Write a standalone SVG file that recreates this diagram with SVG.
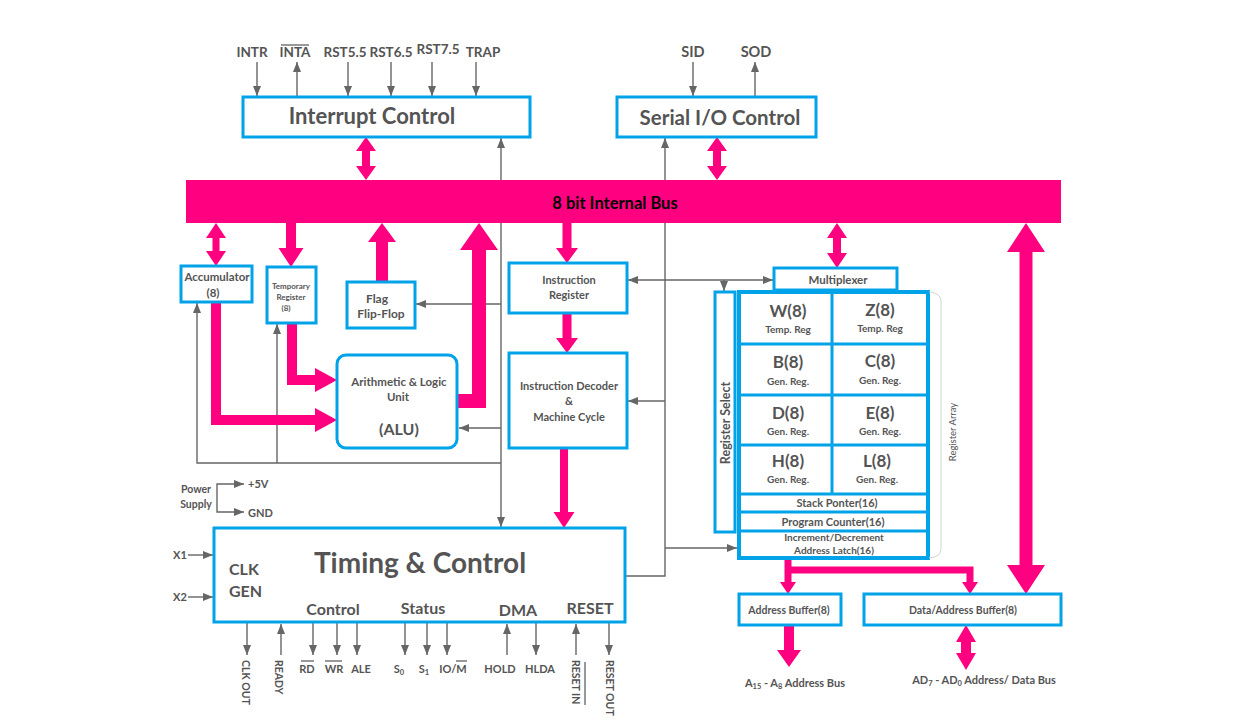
<svg xmlns="http://www.w3.org/2000/svg" width="1240" height="726" viewBox="0 0 1240 726">
<style>
.t{font-family:Lato,"Open Sans","DejaVu Sans",sans-serif;font-weight:700;fill:#545454;text-anchor:middle}
.st{text-anchor:start}
.box{fill:#fff;stroke:#00A2E8;stroke-width:3}
.gl{fill:none;stroke:#666;stroke-width:1.4}
.ga{fill:none;stroke:#666;stroke-width:1.4;marker-end:url(#ah)}
.gb{fill:none;stroke:#666;stroke-width:1.4;marker-start:url(#ah);marker-end:url(#ah)}
.pk{fill:#FF0080}
.ol{stroke:#545454;stroke-width:1.2}
</style>
<defs>
<marker id="ah" viewBox="0 0 10 8" refX="10" refY="4" markerWidth="10" markerHeight="8" markerUnits="userSpaceOnUse" orient="auto-start-reverse"><path d="M0,0 L10,4 L0,8 z" fill="#666"/></marker>
</defs>
<rect width="1240" height="726" fill="#fff"/>

<g id="connectors">
  <path class="ga" d="M257,62 V96"/>
  <path class="ga" d="M297,96 V62"/>
  <path class="ga" d="M348,62 V96"/>
  <path class="ga" d="M391,62 V96"/>
  <path class="ga" d="M432,62 V96"/>
  <path class="ga" d="M476,62 V96"/>
  <path class="ga" d="M693,62 V96"/>
  <path class="ga" d="M755,96 V62"/>
  <path class="gb" d="M501,138 V527"/>
  <path class="ga" d="M501,304 H416"/>
  <path class="ga" d="M501,428 H459"/>
  <path class="ga" d="M501,463 H197 V303"/>
  <path class="ga" d="M277,463 V324"/>
  <path class="gl" d="M665,138 V576 H626" style="marker-start:url(#ah)"/>
  <path class="gb" d="M628,280 H773"/>
  <path class="ga" d="M724,280 V291"/>
  <path class="ga" d="M665,401 H628"/>
  <path class="ga" d="M665,548 H737"/>
  <path class="gb" d="M244,484 H217 V512 H244"/>
  <path class="ga" d="M188,555 H213"/>
  <path class="ga" d="M188,597 H213"/>
  <path class="ga" d="M247,623 V655"/>
  <path class="ga" d="M281,655 V624"/>
  <path class="ga" d="M313,623 V655"/>
  <path class="ga" d="M337,623 V655"/>
  <path class="ga" d="M357,623 V655"/>
  <path class="ga" d="M405,623 V655"/>
  <path class="ga" d="M427,623 V655"/>
  <path class="ga" d="M447,623 V655"/>
  <path class="ga" d="M507,655 V624"/>
  <path class="ga" d="M536,623 V655"/>
  <path class="ga" d="M576,655 V624"/>
  <path class="ga" d="M609,623 V655"/>
  <path class="pk" d="M366,137 L376,151 L370,151 L370,166 L376,166 L366,180 L356,166 L362,166 L362,151 L356,151 Z"/>
  <path class="pk" d="M717,137 L727,151 L721,151 L721,166 L727,166 L717,180 L707,166 L713,166 L713,151 L707,151 Z"/>
  <path class="pk" d="M216,223 L226,238 L219.5,238 L219.5,251 L226,251 L216,266 L206,251 L212.5,251 L212.5,238 L206,238 Z"/>
  <path class="pk" d="M837,223 L847,238 L841,238 L841,253 L847,253 L837,268 L827,253 L833,253 L833,238 L827,238 Z"/>
  <path class="pk" d="M1026,223 L1045,252 L1032.5,252 L1032.5,565 L1045,565 L1026,594 L1007,565 L1019.5,565 L1019.5,252 L1007,252 Z"/>
  <path class="pk" d="M966,625 L976,642 L971,642 L971,653 L976,653 L966,670 L956,653 L961,653 L961,642 L956,642 Z"/>
  <path class="pk" d="M286,223 L296,223 L296,248 L303.5,248 L291,267 L278.5,248 L286,248 Z"/>
  <path class="pk" d="M562.5,223 L571.5,223 L571.5,248 L578,248 L567,263 L556,248 L562.5,248 Z"/>
  <path class="pk" d="M562.5,313 L571.5,313 L571.5,338 L578,338 L567,353 L556,338 L562.5,338 Z"/>
  <path class="pk" d="M560,448 L568,448 L568,512 L574.5,512 L564,528 L553.5,512 L560,512 Z"/>
  <path class="pk" d="M784,625 L794,625 L794,650 L801,650 L789,667 L777,650 L784,650 Z"/>
  <path class="pk" d="M376,282 L388,282 L388,242 L396,242 L382,223 L368,242 L376,242 Z"/>
  <path class="pk" d="M458,394 L472,394 L472,250 L460,250 L479,223 L498,250 L486,250 L486,408 L458,408 Z"/>
  <path class="pk" d="M211,302 L221,302 L221,415 L315,415 L315,408 L337,420 L315,432 L315,425 L211,425 Z"/>
  <path class="pk" d="M287,323 L297,323 L297,375 L315,375 L315,368 L337,380 L315,392 L315,385 L287,385 Z"/>
  <path d="M788,558 V584 M788,570 H970 V584" fill="none" stroke="#FF0080" stroke-width="7"/>
  <path class="pk" d="M780,582 L796,582 L788,594 Z"/>
  <path class="pk" d="M962,582 L978,582 L970,594 Z"/>
</g>

<g id="pin-labels">
  <text class="t" x="252" y="57" font-size="13.5">INTR</text>
  <text class="t" x="295" y="57" font-size="13.5">INTA</text>
  <line class="ol" x1="281" y1="45" x2="309" y2="45"/>
  <text class="t" x="345" y="57" font-size="13.5">RST5.5</text>
  <text class="t" x="391" y="57" font-size="13.5">RST6.5</text>
  <text class="t" x="438" y="54" font-size="13.5">RST7.5</text>
  <text class="t" x="483" y="57" font-size="13.5">TRAP</text>
  <text class="t" x="693" y="57" font-size="14.5">SID</text>
  <text class="t" x="756" y="57" font-size="14.5">SOD</text>
  <text class="t st" x="173" y="559" font-size="11">X1</text>
  <text class="t st" x="173" y="601" font-size="11">X2</text>
  <text class="t" x="196" y="493" font-size="10.5">Power</text>
  <text class="t" x="196" y="508" font-size="10.5">Supply</text>
  <text class="t st" x="248" y="488" font-size="11">+5V</text>
  <text class="t st" x="248" y="517" font-size="11">GND</text>
  <text class="t" transform="translate(242,660) rotate(90)" style="text-anchor:start" font-size="10.5">CLK OUT</text>
  <text class="t" transform="translate(275,660) rotate(90)" style="text-anchor:start" font-size="10.5">READY</text>
  <text class="t" x="307" y="673" font-size="11">RD</text>
  <line class="ol" x1="301" y1="661" x2="314" y2="661"/>
  <text class="t" x="334" y="673" font-size="11">WR</text>
  <line class="ol" x1="325" y1="661" x2="342" y2="661"/>
  <text class="t" x="361" y="673" font-size="11">ALE</text>
  <text class="t" x="399" y="673" font-size="11">S<tspan font-size="7.5" dy="2">0</tspan></text>
  <text class="t" x="424" y="673" font-size="11">S<tspan font-size="7.5" dy="2">1</tspan></text>
  <text class="t" x="453" y="673" font-size="11">IO/M</text>
  <line class="ol" x1="456" y1="661" x2="467" y2="661"/>
  <text class="t" x="500" y="673" font-size="11">HOLD</text>
  <text class="t" x="540" y="673" font-size="11">HLDA</text>
  <text class="t" transform="translate(572,660) rotate(90)" style="text-anchor:start" font-size="10.5">RESET IN</text>
  <line class="ol" x1="585" y1="662" x2="585" y2="705"/>
  <text class="t" transform="translate(606,660) rotate(90)" style="text-anchor:start" font-size="10.5">RESET OUT</text>
  <text class="t" x="795" y="687" font-size="11">A<tspan font-size="7.5" dy="2">15</tspan><tspan dy="-2"> - A</tspan><tspan font-size="7.5" dy="2">8</tspan><tspan dy="-2"> Address Bus</tspan></text>
  <text class="t" x="984" y="684" font-size="11">AD<tspan font-size="7.5" dy="2">7</tspan><tspan dy="-2"> - AD</tspan><tspan font-size="7.5" dy="2">0</tspan><tspan dy="-2"> Address/ Data Bus</tspan></text>
</g>

<g id="bus">
  <rect x="186" y="180" width="875" height="43" fill="#FF0080"/>
  <text class="t" x="615" y="209" font-size="16.5" style="fill:#000">8 bit Internal Bus</text>
</g>

<g id="interrupt-control">
  <rect class="box" x="243" y="97" width="287" height="40"/>
  <text class="t" x="372" y="124" font-size="22">Interrupt Control</text>
</g>

<g id="serial-io-control">
  <rect class="box" x="617" y="97" width="199" height="40"/>
  <text class="t" x="720" y="125" font-size="20.5">Serial I/O Control</text>
</g>

<g id="accumulator">
  <rect class="box" x="181" y="266" width="71" height="36"/>
  <text class="t" x="217" y="281" font-size="11.5">Accumulator</text>
  <text class="t" x="213" y="297" font-size="11.5">(8)</text>
</g>

<g id="temporary-register">
  <rect class="box" x="267" y="267" width="49" height="56"/>
  <text class="t" x="291" y="289" font-size="8">Temporary</text>
  <text class="t" x="291" y="300" font-size="8">Register</text>
  <text class="t" x="286" y="311" font-size="8">(8)</text>
</g>

<g id="flag-flip-flop">
  <rect class="box" x="347" y="282" width="68" height="46"/>
  <text class="t" x="377" y="303" font-size="12">Flag</text>
  <text class="t" x="381" y="318" font-size="12">Flip-Flop</text>
</g>

<g id="alu">
  <rect class="box" x="337" y="355" width="120" height="93" rx="9"/>
  <text class="t" x="399" y="386" font-size="11.5">Arithmetic &amp; Logic</text>
  <text class="t" x="398" y="401" font-size="11.5">Unit</text>
  <text class="t" x="399" y="435" font-size="16">(ALU)</text>
</g>

<g id="instruction-register">
  <rect class="box" x="509" y="263" width="118" height="50"/>
  <text class="t" x="569" y="284" font-size="11">Instruction</text>
  <text class="t" x="569" y="299" font-size="11">Register</text>
</g>

<g id="instruction-decoder">
  <rect class="box" x="509" y="353" width="118" height="95"/>
  <text class="t" x="569" y="390" font-size="11">Instruction Decoder</text>
  <text class="t" x="569" y="405" font-size="11">&amp;</text>
  <text class="t" x="569" y="421" font-size="11">Machine Cycle</text>
</g>

<g id="multiplexer">
  <rect class="box" x="774" y="268" width="123" height="22"/>
  <text class="t" x="838" y="284" font-size="11.5">Multiplexer</text>
</g>

<g id="register-select">
  <rect class="box" x="715" y="292" width="20" height="240"/>
  <text class="t" transform="translate(730,423) rotate(-90)" font-size="12.5">Register Select</text>
</g>

<g id="register-array">
  <rect x="739" y="292" width="189" height="266" fill="#fff" stroke="#00A2E8" stroke-width="4"/>
  <g stroke="#00A2E8" stroke-width="3">
    <line x1="832" y1="292" x2="832" y2="493"/>
    <line x1="739" y1="344" x2="928" y2="344"/>
    <line x1="739" y1="395" x2="928" y2="395"/>
    <line x1="739" y1="445" x2="928" y2="445"/>
    <line x1="739" y1="494" x2="928" y2="494"/>
    <line x1="739" y1="512" x2="928" y2="512"/>
    <line x1="739" y1="531" x2="928" y2="531"/>
  </g>
  <text class="t" x="788" y="317" font-size="17">W(8)</text>
  <text class="t" x="788" y="333" font-size="10">Temp. Reg</text>
  <text class="t" x="880" y="316" font-size="17">Z(8)</text>
  <text class="t" x="880" y="332" font-size="10">Temp. Reg</text>
  <text class="t" x="788" y="368" font-size="17">B(8)</text>
  <text class="t" x="788" y="385" font-size="10">Gen. Reg.</text>
  <text class="t" x="880" y="367" font-size="17">C(8)</text>
  <text class="t" x="880" y="384" font-size="10">Gen. Reg.</text>
  <text class="t" x="788" y="419" font-size="17">D(8)</text>
  <text class="t" x="788" y="435" font-size="10">Gen. Reg.</text>
  <text class="t" x="880" y="419" font-size="17">E(8)</text>
  <text class="t" x="880" y="435" font-size="10">Gen. Reg.</text>
  <text class="t" x="788" y="467" font-size="17">H(8)</text>
  <text class="t" x="788" y="483" font-size="10">Gen. Reg.</text>
  <text class="t" x="877" y="467" font-size="17">L(8)</text>
  <text class="t" x="877" y="483" font-size="10">Gen. Reg.</text>
  <text class="t" x="837" y="507" font-size="11">Stack Ponter(16)</text>
  <text class="t" x="833" y="526" font-size="11">Program Counter(16)</text>
  <text class="t" x="834" y="541" font-size="10">Increment/Decrement</text>
  <text class="t" x="834" y="554" font-size="10">Address Latch(16)</text>
  <path d="M929,292 Q941,293 941,301 V549 Q941,557 929,558" fill="none" stroke="#d4d4d4" stroke-width="1"/>
  <text class="t" transform="translate(956,432) rotate(-90)" font-size="9.5" style="font-weight:400">Register Array</text>
</g>

<g id="timing-control">
  <rect class="box" x="214" y="528" width="411" height="94"/>
  <text class="t" x="420" y="573" font-size="28">Timing &amp; Control</text>
  <text class="t st" x="229" y="575" font-size="16">CLK</text>
  <text class="t st" x="229" y="597" font-size="16">GEN</text>
  <text class="t" x="333" y="615" font-size="16">Control</text>
  <text class="t" x="423" y="614" font-size="16">Status</text>
  <text class="t" x="518" y="616" font-size="16">DMA</text>
  <text class="t" x="590" y="614" font-size="16">RESET</text>
</g>

<g id="address-buffer">
  <rect class="box" x="739" y="594" width="102" height="31"/>
  <text class="t" x="789" y="614" font-size="10.5">Address Buffer(8)</text>
</g>

<g id="data-address-buffer">
  <rect class="box" x="864" y="594" width="197" height="31"/>
  <text class="t" x="963" y="614" font-size="10.5">Data/Address Buffer(8)</text>
</g>
</svg>
